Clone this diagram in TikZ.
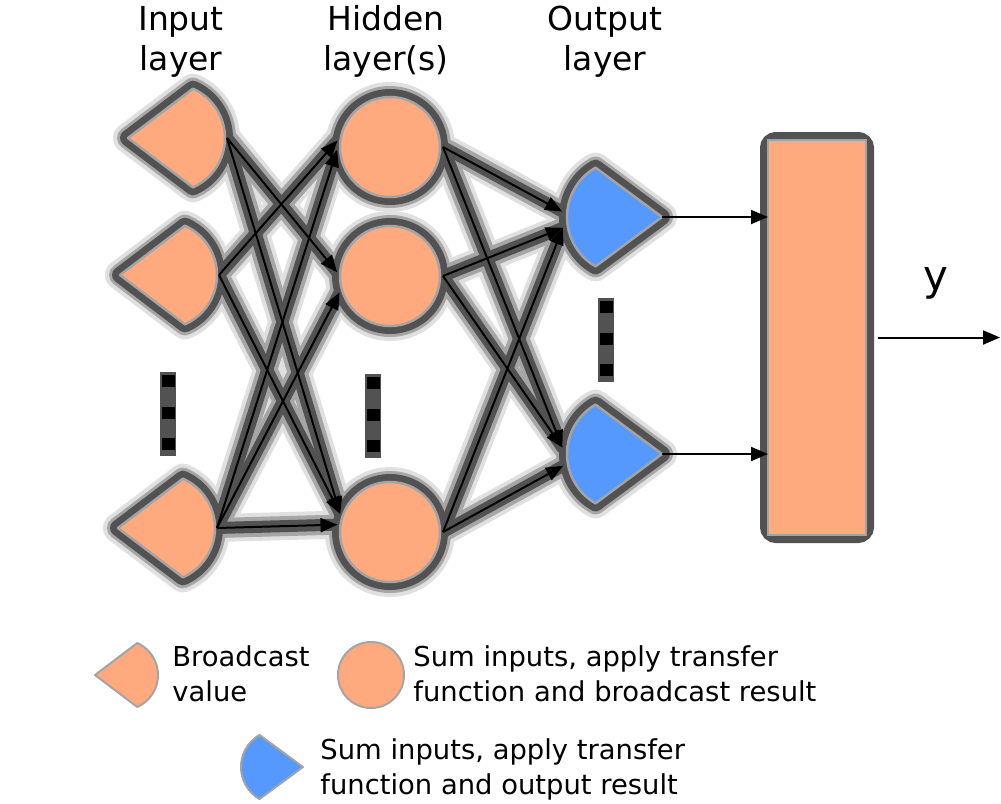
\documentclass[tikz,border=0pt]{standalone}
\usepackage{fontspec}
\setmainfont{DejaVu Sans}
\usetikzlibrary{arrows.meta,positioning}

\definecolor{salmon}{HTML}{FFA97E}
\definecolor{skyblue}{HTML}{5599FF}
\definecolor{halo}{HTML}{525252}
\definecolor{rim}{HTML}{A4A4A4}

\tikzset{
  glowa/.style={draw=black!12, line width=14pt, line cap=round, line join=round},
  glowb/.style={draw=black!35, line width=10pt, line cap=round, line join=round},
  band/.style={draw=halo, line width=6pt, line cap=round, line join=round},
  nodeglowa/.style={draw=black!12, line width=15pt, line join=round},
  nodeglowb/.style={draw=black!35, line width=11pt, line join=round},
  nodeband/.style={draw=halo, line width=8pt, line join=round},
  unit/.style={circle, inner sep=0pt, outer sep=0pt},
  outbox/.style={rectangle, fill=salmon, draw=rim, line width=1pt, inner sep=0pt, outer sep=0pt,
    minimum width=49pt, minimum height=197.5pt},
  conn/.style={draw, line width=1pt, -{Triangle[length=8.5pt,width=7pt]}},
  title/.style={font=\fontsize{16.5}{20}\selectfont, align=center},
  legend/.style={font=\fontsize{13.7}{17.5}\selectfont, align=left, anchor=west, inner sep=0pt},
}

\def\inedges{i1/h2/176, i1/h3/160, i2/h1/173, i2/h3/160, i3/h1/183, i3/h2/198, i3/h3/172}
\def\outedges{h1/o1/175, h2/o1/190, h3/o1/190, h1/o2/174, h2/o2/174, h3/o2/191}

\begin{document}
\begin{tikzpicture}[x=0.5pt, y=-0.5pt]
  \useasboundingbox (0,0) rectangle (1001,803);

  \node[unit, minimum size=56pt] (i1) at (171,138) {};
  \node[unit, minimum size=56pt] (i2) at (163,275) {};
  \node[unit, minimum size=56pt] (i3) at (161,528) {};
  \node[unit, minimum size=53pt] (h1) at (390,147) {};
  \node[unit, minimum size=53pt] (h2) at (390,276) {};
  \node[unit, minimum size=53pt] (h3) at (390,532) {};
  \node[unit, minimum size=62pt] (o1) at (624,217) {};
  \node[unit, minimum size=62pt] (o2) at (624,454) {};
  \coordinate (yend) at (1000,337.5);

  % shadows first
  \foreach \g/\ng in {glowa/nodeglowa, glowb/nodeglowb, band/nodeband} {
    \foreach \a/\b/\t in \inedges \path[\g] (\a.east) -- (\b.\t);
    \foreach \a/\b/\t in \outedges \path[\g] (\a.east) -- (\b.\t);
    \foreach \n in {i1,i2,i3}
      \path[\ng] (\n.center) +(-43,0) -- +(66:54) arc[start angle=66, end angle=-66, radius=54] -- cycle;
    \foreach \n in {o1,o2}
      \path[\ng] (\n.center) +(38,0) -- +(120:57) arc[start angle=120, end angle=240, radius=57] -- cycle;
    \foreach \n in {h1,h2,h3} \path[\ng] (\n.center) circle[radius=50];
  }
  \path[draw=halo, line width=8pt, rounded corners=4pt] (768,140) rectangle (866,535);

  \foreach \n in {i1,i2,i3}
    \filldraw[fill=salmon, draw=rim, line width=1.25pt, line join=round]
      (\n.center) +(-43,0) -- +(66:54) arc[start angle=66, end angle=-66, radius=54] -- cycle;
  \foreach \n in {o1,o2}
    \filldraw[fill=skyblue, draw=rim, line width=1.25pt, line join=round]
      (\n.center) +(38,0) -- +(120:57) arc[start angle=120, end angle=240, radius=57] -- cycle;
  \foreach \n in {h1,h2,h3}
    \filldraw[fill=salmon, draw=rim, line width=1.25pt] (\n.center) circle[radius=50];
  \node[outbox] (sum) at (817,337.5) {};

  \foreach \a/\b/\t in \inedges \draw[conn] (\a.east) -- (\b.\t);
  \foreach \a/\b/\t in \outedges \draw[conn] (\a.east) -- (\b.\t);
  \foreach \n in {o1,o2} \draw[conn, shorten <=19pt] (\n.center) -- (sum.west |- \n.center);
  \draw[conn, shorten <=6pt] (sum.east) -- (yend);

  % vertical dots
  \foreach \x/\y in {168/381, 373/383, 606/307} {
    \fill[halo] (\x-8,\y-9) rectangle (\x+8,\y+75);
    \foreach \k in {0,1,2} \fill (\x-6.5,\y-6+31.5*\k) rectangle (\x+6.5,\y+6+31.5*\k);
  }

  \node[title] (tin) at (181,42) {Input\\layer};
  \node[title] (thid) at (386,41.5) {Hidden\\layer(s)};
  \node[title] (tout) at (605,42) {Output\\layer};
  \node[font=\fontsize{21}{25}\selectfont, inner sep=0pt] (ylab) at (936,283.5) {y};

  % legend
  \filldraw[fill=salmon, draw=rim, line width=1pt, line join=round]
    (123,675) +(-28,0) -- +(66:35) arc[start angle=66, end angle=-66, radius=35] -- cycle;
  \filldraw[fill=salmon, draw=rim, line width=1pt] (371,675) circle[radius=33];
  \filldraw[fill=skyblue, draw=rim, line width=1pt, line join=round]
    (278,767) +(25,0) -- +(120:37) arc[start angle=120, end angle=240, radius=37] -- cycle;
  \node[legend] (lbc) at (172,674) {Broadcast\\value};
  \node[legend] (lsum) at (413,674) {Sum inputs, apply transfer\\function and broadcast result};
  \node[legend] (lout) at (320,769) {Sum inputs, apply transfer\\function and output result};
\end{tikzpicture}
\end{document}
